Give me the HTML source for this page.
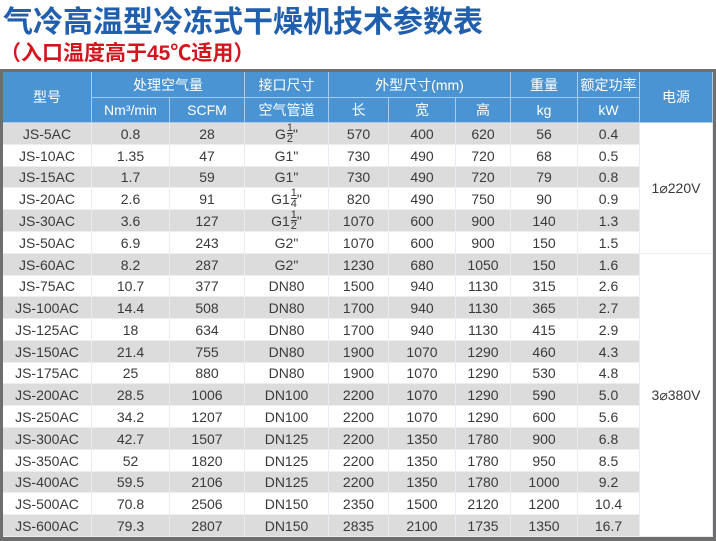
<!DOCTYPE html>
<html><head><meta charset="utf-8"><style>
body{margin:0;width:716px;height:541px;background:#fff;position:relative;overflow:hidden;font-family:"Liberation Sans","Noto Sans CJK SC",sans-serif}
.t{position:absolute;left:3px;top:-3px;font-size:30px;font-weight:bold;color:#1f5fae;white-space:nowrap}
.s{position:absolute;left:0px;top:37px;font-size:21px;font-weight:bold;color:#d3151d;white-space:nowrap}
.frame{position:absolute;left:0;top:69px;width:716px;height:472px;background:#6e6e6e}
.c{position:absolute;display:flex;align-items:center;justify-content:center;box-sizing:border-box;white-space:nowrap}
.h{background:#4a94d3;color:#fff;font-size:14px;border-right:1px solid #a9cbea;border-bottom:1px solid #a9cbea}
.d{font-size:14px;color:#3a3a3a;border-right:1px solid #e6ecf2;border-bottom:1px solid #eee}
.g{background:#dcdcdc}.w{background:#fff}
.fr{display:inline-flex;flex-direction:column;font-size:11px;line-height:10px;text-align:center;margin:0 0 0 1px}
.fr span:first-child{border-bottom:1px solid #3a3a3a}
</style></head><body>
<div class="t">气冷高温型冷冻式干燥机技术参数表</div>
<div class="s">（入口温度高于45℃适用）</div>
<div class="frame"></div>
<div id="tb"></div>
<script>
var X=[3,92,170,245,329,389,456,511,578,640,713];
var H='';
function c(x1,x2,y1,y2,cls,txt){H+='<div class="c '+cls+'" style="left:'+x1+'px;top:'+y1+'px;width:'+(x2-x1)+'px;height:'+(y2-y1)+'px">'+txt+'</div>';}
var y0=72,y1=98,y2=123;
c(X[0],X[1],y0,y2,'h','型号');
c(X[1],X[3],y0,y1,'h','处理空气量');
c(X[1],X[2],y1,y2,'h','Nm³/min');
c(X[2],X[3],y1,y2,'h','SCFM');
c(X[3],X[4],y0,y1,'h','接口尺寸');
c(X[3],X[4],y1,y2,'h','空气管道');
c(X[4],X[7],y0,y1,'h','外型尺寸(mm)');
c(X[4],X[5],y1,y2,'h','长');c(X[5],X[6],y1,y2,'h','宽');c(X[6],X[7],y1,y2,'h','高');
c(X[7],X[8],y0,y1,'h','重量');c(X[7],X[8],y1,y2,'h','kg');
c(X[8],X[9],y0,y1,'h','额定功率');c(X[8],X[9],y1,y2,'h','kW');
c(X[9],X[10],y0,y2,'h','电源');
function f(a,b){return '<span class="fr"><span>'+a+'</span><span>'+b+'</span></span>"';}
var R=[
['JS-5AC','0.8','28','G'+f(1,2),'570','400','620','56','0.4'],
['JS-10AC','1.35','47','G1"','730','490','720','68','0.5'],
['JS-15AC','1.7','59','G1"','730','490','720','79','0.8'],
['JS-20AC','2.6','91','G1'+f(1,4),'820','490','750','90','0.9'],
['JS-30AC','3.6','127','G1'+f(1,2),'1070','600','900','140','1.3'],
['JS-50AC','6.9','243','G2"','1070','600','900','150','1.5'],
['JS-60AC','8.2','287','G2"','1230','680','1050','150','1.6'],
['JS-75AC','10.7','377','DN80','1500','940','1130','315','2.6'],
['JS-100AC','14.4','508','DN80','1700','940','1130','365','2.7'],
['JS-125AC','18','634','DN80','1700','940','1130','415','2.9'],
['JS-150AC','21.4','755','DN80','1900','1070','1290','460','4.3'],
['JS-175AC','25','880','DN80','1900','1070','1290','530','4.8'],
['JS-200AC','28.5','1006','DN100','2200','1070','1290','590','5.0'],
['JS-250AC','34.2','1207','DN100','2200','1070','1290','600','5.6'],
['JS-300AC','42.7','1507','DN125','2200','1350','1780','900','6.8'],
['JS-350AC','52','1820','DN125','2200','1350','1780','950','8.5'],
['JS-400AC','59.5','2106','DN125','2200','1350','1780','1000','9.2'],
['JS-500AC','70.8','2506','DN150','2350','1500','2120','1200','10.4'],
['JS-600AC','79.3','2807','DN150','2835','2100','1735','1350','16.7']];
var rh=(537-123)/19;
for(var i=0;i<19;i++){var a=Math.round(123+i*rh),b=Math.round(123+(i+1)*rh);
 for(var j=0;j<9;j++)c(X[j],X[j+1],a,b,'d '+(i%2?'w':'g'),R[i][j]);}
var m=Math.round(123+6*rh);
c(X[9],X[10],123,m,'d w','1⌀220V');
c(X[9],X[10],m,537,'d w','3⌀380V');
document.getElementById('tb').innerHTML=H;
</script>
</body></html>
